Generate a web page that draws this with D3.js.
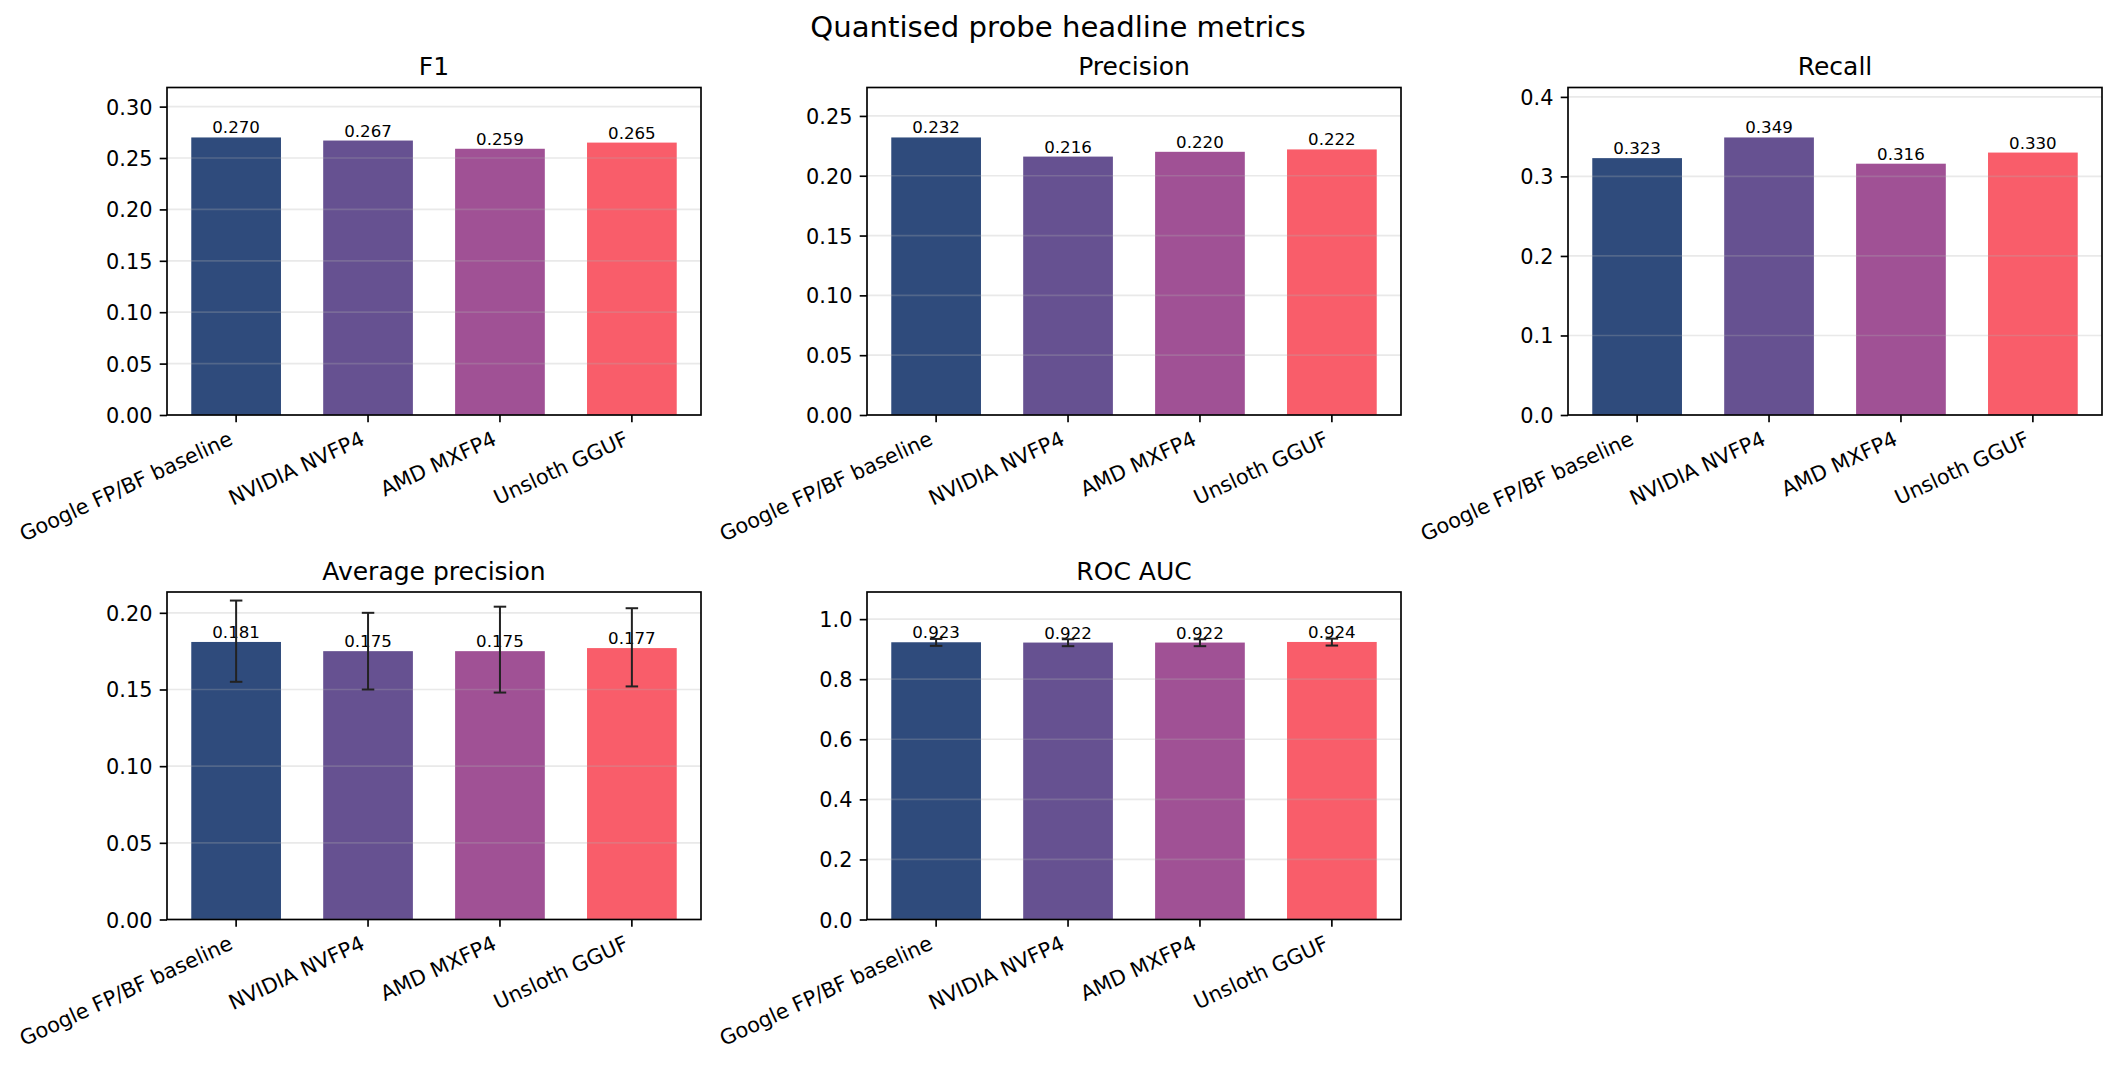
<!DOCTYPE html>
<html>
<head>
<meta charset="utf-8">
<script src="https://cdn.jsdelivr.net/npm/d3@7"></script>
<style>
body { margin: 0; background: #fff; }
svg text { font-family: "DejaVu Sans", sans-serif; fill: #000; }
</style>
</head>
<body>
<div id="chart"></div>
<script>
// data
var models = ["Google FP/BF baseline", "NVIDIA NVFP4", "AMD MXFP4", "Unsloth GGUF"];
var colors = ["#2f4b7c", "#665191", "#a05195", "#f95d6a"];

var f1 = [0.270, 0.267, 0.259, 0.265];
var precision = [0.232, 0.216, 0.220, 0.222];
var recall = [0.323, 0.349, 0.316, 0.330];
var avgPrecision = [0.181, 0.175, 0.175, 0.177];
var avgPrecisionLo = [0.155, 0.150, 0.148, 0.152];
var avgPrecisionHi = [0.208, 0.200, 0.204, 0.203];
var rocAuc = [0.923, 0.922, 0.922, 0.924];
var rocAucLo = [0.911, 0.910, 0.910, 0.912];
var rocAucHi = [0.934, 0.933, 0.933, 0.935];

var f1Ticks = [0, 0.05, 0.10, 0.15, 0.20, 0.25, 0.30];
var precisionTicks = [0, 0.05, 0.10, 0.15, 0.20, 0.25];
var recallTicks = [0, 0.1, 0.2, 0.3, 0.4];
var avgPrecisionTicks = [0, 0.05, 0.10, 0.15, 0.20];
var rocAucTicks = [0, 0.2, 0.4, 0.6, 0.8, 1.0];

var W = 2116, H = 1067;
var pt = 150 / 72; // figure was saved at 150 dpi
var colX = [167, 867, 1568];
var rowY = [87.5, 592];
var pw = 534, ph = 327.5;
var lw = 0.8 * pt, tick = 3.5 * pt;

var svg = d3.select("#chart").append("svg")
            .attr("width", W)
            .attr("height", H);

svg.append("rect").attr("width", W).attr("height", H).attr("fill", "#fff");

svg.append("text").text("Quantised probe headline metrics")
   .attr("x", 1058)
   .attr("y", 37)
   .attr("text-anchor", "middle")
   .attr("font-size", (14 * pt) + "px");

var panels = [
  { title: "F1", vals: f1, ticks: f1Ticks, fmt: ".2f", col: 0, row: 0 },
  { title: "Precision", vals: precision, ticks: precisionTicks, fmt: ".2f", col: 1, row: 0 },
  { title: "Recall", vals: recall, ticks: recallTicks, fmt: ".1f", col: 2, row: 0 },
  { title: "Average precision", vals: avgPrecision, lo: avgPrecisionLo, hi: avgPrecisionHi, ticks: avgPrecisionTicks, fmt: ".2f", col: 0, row: 1 },
  { title: "ROC AUC", vals: rocAuc, lo: rocAucLo, hi: rocAucHi, ticks: rocAucTicks, fmt: ".1f", col: 1, row: 1 }
];

panels.forEach(function(p) {
  var g = svg.append("g")
             .attr("transform", "translate(" + colX[p.col] + "," + rowY[p.row] + ")");

  var x = d3.scaleBand().domain(models).range([0, pw])
            .paddingInner(0.32).paddingOuter(0.184);
  var y = d3.scaleLinear().domain([0, d3.max(p.vals) * 1.18]).range([ph, 0]);

  // bars
  g.selectAll("rect.bar")
   .data(p.vals)
   .enter()
   .append("rect")
   .attr("class", "bar")
   .attr("x", function(d, i) { return x(models[i]); })
   .attr("y", function(d) { return y(d); })
   .attr("width", x.bandwidth())
   .attr("height", function(d) { return ph - y(d); })
   .attr("fill", function(d, i) { return colors[i]; });

  // grid sits above the bars, like matplotlib does it
  g.selectAll("line.grid")
   .data(p.ticks)
   .enter()
   .append("line")
   .attr("class", "grid")
   .attr("x1", 0).attr("x2", pw)
   .attr("y1", function(d) { return y(d); })
   .attr("y2", function(d) { return y(d); })
   .attr("stroke", "#b0b0b0")
   .attr("stroke-opacity", 0.28)
   .attr("stroke-width", lw);

  // value labels
  g.selectAll("text.val")
   .data(p.vals)
   .enter()
   .append("text")
   .attr("class", "val")
   .attr("x", function(d, i) { return x(models[i]) + x.bandwidth() / 2; })
   .attr("y", function(d) { return y(d) - 4; })
   .attr("text-anchor", "middle")
   .attr("font-size", (8 * pt) + "px")
   .text(function(d) { return d.toFixed(3); });

  // error bars
  if (p.lo) {
    var eg = g.append("g").attr("stroke", "#222").attr("stroke-width", 2);
    var cap = 3 * pt;
    p.vals.forEach(function(d, i) {
      var cx = x(models[i]) + x.bandwidth() / 2;
      eg.append("line").attr("x1", cx).attr("x2", cx)
        .attr("y1", y(p.lo[i])).attr("y2", y(p.hi[i]));
      eg.append("line").attr("x1", cx - cap).attr("x2", cx + cap)
        .attr("y1", y(p.lo[i])).attr("y2", y(p.lo[i]));
      eg.append("line").attr("x1", cx - cap).attr("x2", cx + cap)
        .attr("y1", y(p.hi[i])).attr("y2", y(p.hi[i]));
    });
  }

  // frame
  g.append("rect")
   .attr("width", pw).attr("height", ph)
   .attr("fill", "none")
   .attr("stroke", "#000")
   .attr("stroke-width", lw);

  // y axis
  var ya = g.append("g")
            .call(d3.axisLeft(y).tickValues(p.ticks).tickFormat(d3.format(p.fmt))
                    .tickSize(tick).tickPadding(tick).tickSizeOuter(0));
  ya.select(".domain").remove();
  ya.selectAll("line").attr("stroke", "#000").attr("stroke-width", lw);
  ya.selectAll("text").attr("font-size", (10 * pt) + "px").attr("dy", "0.36em").attr("fill", "#000");

  // x axis, labels turned 25 degrees and right aligned
  var xa = g.append("g")
            .attr("transform", "translate(0," + ph + ")")
            .call(d3.axisBottom(x).tickSize(tick).tickPadding(tick).tickSizeOuter(0));
  xa.select(".domain").remove();
  xa.selectAll("line").attr("stroke", "#000").attr("stroke-width", lw);
  xa.selectAll("text")
    .attr("font-size", (10 * pt) + "px")
    .attr("fill", "#000")
    .attr("text-anchor", "end")
    .attr("y", null)
    .attr("dy", null)
    .attr("transform", "translate(-2.1," + (2 * tick + 14.3) + ") rotate(-25)");

  // title
  g.append("text").text(p.title)
   .attr("x", pw / 2)
   .attr("y", -6 * pt)
   .attr("text-anchor", "middle")
   .attr("font-size", (12 * pt) + "px");
});
</script>
</body>
</html>
